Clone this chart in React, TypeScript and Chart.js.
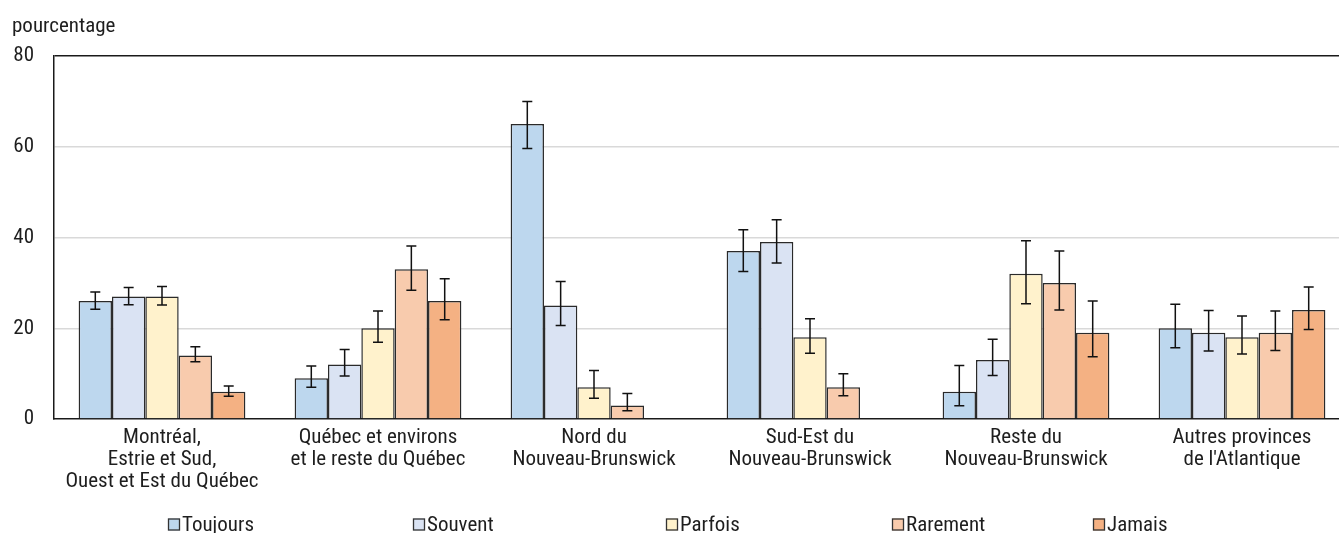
import React, { useEffect, useRef } from 'react';
import { Chart, registerables } from 'chart.js';

Chart.register(...registerables);

// ---------- data ----------
const categories: string[][] = [
  ['Montréal,', 'Estrie et Sud,', 'Ouest et Est du Québec'],
  ['Québec et environs', 'et le reste du Québec'],
  ['Nord du', 'Nouveau-Brunswick'],
  ['Sud-Est du', 'Nouveau-Brunswick'],
  ['Reste du', 'Nouveau-Brunswick'],
  ['Autres provinces', "de l'Atlantique"],
];

const seriesNames = ['Toujours', 'Souvent', 'Parfois', 'Rarement', 'Jamais'];

const toujours = [26, 9, 65, 37, 6, 20];
const souvent = [27, 12, 25, 39, 13, 19];
const parfois = [27, 20, 7, 18, 32, 18];
const rarement = [14, 33, 3, 7, 30, 19];
const jamais = [6, 26, null, null, 19, 24];

const toujoursLow = [24.2, 7.0, 59.6, 32.5, 2.9, 15.7];
const toujoursHigh = [28.0, 11.7, 70.0, 41.7, 11.8, 25.3];
const souventLow = [25.2, 9.5, 20.6, 34.4, 9.6, 15.0];
const souventHigh = [29.0, 15.3, 30.3, 43.9, 17.6, 23.9];
const parfoisLow = [25.1, 16.9, 4.6, 14.5, 25.4, 14.3];
const parfoisHigh = [29.2, 23.8, 10.7, 22.1, 39.3, 22.7];
const rarementLow = [12.6, 28.4, 1.8, 5.1, 24.0, 15.1];
const rarementHigh = [15.9, 38.1, 5.6, 10.0, 37.0, 23.8];
const jamaisLow = [5.0, 21.9, null, null, 13.7, 19.7];
const jamaisHigh = [7.3, 30.9, null, null, 26.0, 29.1];

const yTicks = [0, 20, 40, 60, 80];
const yAxisTitle = 'pourcentage';

// ---------- styles ----------
const colors = ['#BDD7EE', '#DAE3F3', '#FFF2CC', '#F8CBAD', '#F4B183'];
const FONT = "'Liberation Sans Narrow', 'Arial Narrow', 'Roboto Condensed', Roboto, sans-serif";
const TEXT = '#1e1e1e';
const CANVAS_W = 1360;
const CANVAS_H = 533;
const PLOT_LEFT = 54;
const PLOT_TOP = 56;
const PLOT_BOTTOM = 419;
const PLOT_RIGHT = 1350;
const legendLeft = [168, 413, 666, 892, 1093];

const seriesValues = [toujours, souvent, parfois, rarement, jamais];
const seriesLow = [toujoursLow, souventLow, parfoisLow, rarementLow, jamaisLow];
const seriesHigh = [toujoursHigh, souventHigh, parfoisHigh, rarementHigh, jamaisHigh];

const errorBarPlugin = {
  id: 'errorBars',
  afterDatasetsDraw(chart: any) {
    const ctx = chart.ctx;
    const yScale = chart.scales.y;
    ctx.save();
    ctx.strokeStyle = '#111';
    ctx.lineWidth = 1.5;
    chart.data.datasets.forEach((ds: any, i: number) => {
      const meta = chart.getDatasetMeta(i);
      meta.data.forEach((el: any, j: number) => {
        const lo = seriesLow[i][j];
        const hi = seriesHigh[i][j];
        if (lo == null || hi == null) return;
        const x = el.x;
        const yLo = yScale.getPixelForValue(lo);
        const yHi = yScale.getPixelForValue(hi);
        const cap = 5;
        ctx.beginPath();
        ctx.moveTo(x, yLo);
        ctx.lineTo(x, yHi);
        ctx.moveTo(x - cap, yLo);
        ctx.lineTo(x + cap, yLo);
        ctx.moveTo(x - cap, yHi);
        ctx.lineTo(x + cap, yHi);
        ctx.stroke();
      });
    });
    ctx.restore();
  },
};

const decorPlugin = {
  id: 'decor',
  afterDraw(chart: any) {
    const ctx = chart.ctx;
    ctx.save();
    ctx.font = `21px ${FONT}`;
    ctx.fillStyle = TEXT;
    ctx.textAlign = 'left';
    ctx.textBaseline = 'alphabetic';
    ctx.fillText(yAxisTitle, 12, 31.5);

    // legend
    const boxSize = 12;
    const cy = 524.5;
    chart.data.datasets.forEach((ds: any, i: number) => {
      const x = legendLeft[i];
      ctx.fillStyle = ds.backgroundColor;
      ctx.fillRect(x, cy - boxSize / 2, boxSize, boxSize);
      ctx.strokeStyle = '#333';
      ctx.lineWidth = 1.3;
      ctx.strokeRect(x + 0.5, cy - boxSize / 2 + 0.5, boxSize - 1, boxSize - 1);
      ctx.fillStyle = TEXT;
      ctx.textBaseline = 'middle';
      ctx.fillText(ds.label, x + boxSize + 2, cy + 1);
    });
    ctx.restore();
  },
};

export default function App() {
  const ref = useRef<HTMLCanvasElement | null>(null);

  useEffect(() => {
    if (!ref.current) return;
    const chart = new Chart(ref.current, {
      type: 'bar',
      data: {
        labels: categories,
        datasets: seriesNames.map((name, i) => ({
          label: name,
          data: seriesValues[i] as any,
          backgroundColor: colors[i],
          borderColor: '#2a2a2a',
          borderWidth: 1.5,
          categoryPercentage: 0.772,
          barPercentage: 1,
        })),
      },
      options: {
        responsive: false,
        animation: false,
        events: [],
        layout: {
          padding: { top: PLOT_TOP, left: 0, right: CANVAS_W - PLOT_RIGHT, bottom: 0 },
        },
        plugins: {
          legend: { display: false },
          title: { display: false },
          tooltip: { enabled: false },
        },
        scales: {
          x: {
            type: 'category',
            offset: true,
            grid: { display: false, drawTicks: false },
            border: { display: true, color: '#1a1a1a', width: 1.5 },
            ticks: {
              color: TEXT,
              font: { family: FONT, size: 21, lineHeight: 1.04 },
              padding: 8,
              maxRotation: 0,
              autoSkip: false,
            },
            afterFit: (scale: any) => {
              scale.height = CANVAS_H - PLOT_BOTTOM;
            },
          },
          y: {
            type: 'linear',
            min: yTicks[0],
            max: yTicks[yTicks.length - 1],
            afterBuildTicks: (scale: any) => {
              scale.ticks = yTicks.map((v) => ({ value: v }));
            },
            grid: {
              drawTicks: false,
              color: (c: any) => (c.tick && c.tick.value === 80 ? '#1a1a1a' : c.tick && c.tick.value === 0 ? 'rgba(0,0,0,0)' : '#d9d9d9'),
              lineWidth: 1.5,
            },
            border: { display: true, color: '#1a1a1a', width: 1.5 },
            ticks: {
              color: TEXT,
              font: { family: FONT, size: 21 },
              padding: 20,
            },
            afterFit: (scale: any) => {
              scale.width = PLOT_LEFT;
            },
          },
        },
      },
      plugins: [errorBarPlugin, decorPlugin],
    });
    return () => chart.destroy();
  }, []);

  return (
    <div
      style={{
        position: 'fixed',
        left: 0,
        top: 0,
        width: 1339,
        height: CANVAS_H,
        overflow: 'hidden',
        background: '#fff',
      }}
    >
      <canvas
        ref={ref}
        width={CANVAS_W}
        height={CANVAS_H}
        style={{ display: 'block', width: CANVAS_W, height: CANVAS_H }}
      />
    </div>
  );
}
